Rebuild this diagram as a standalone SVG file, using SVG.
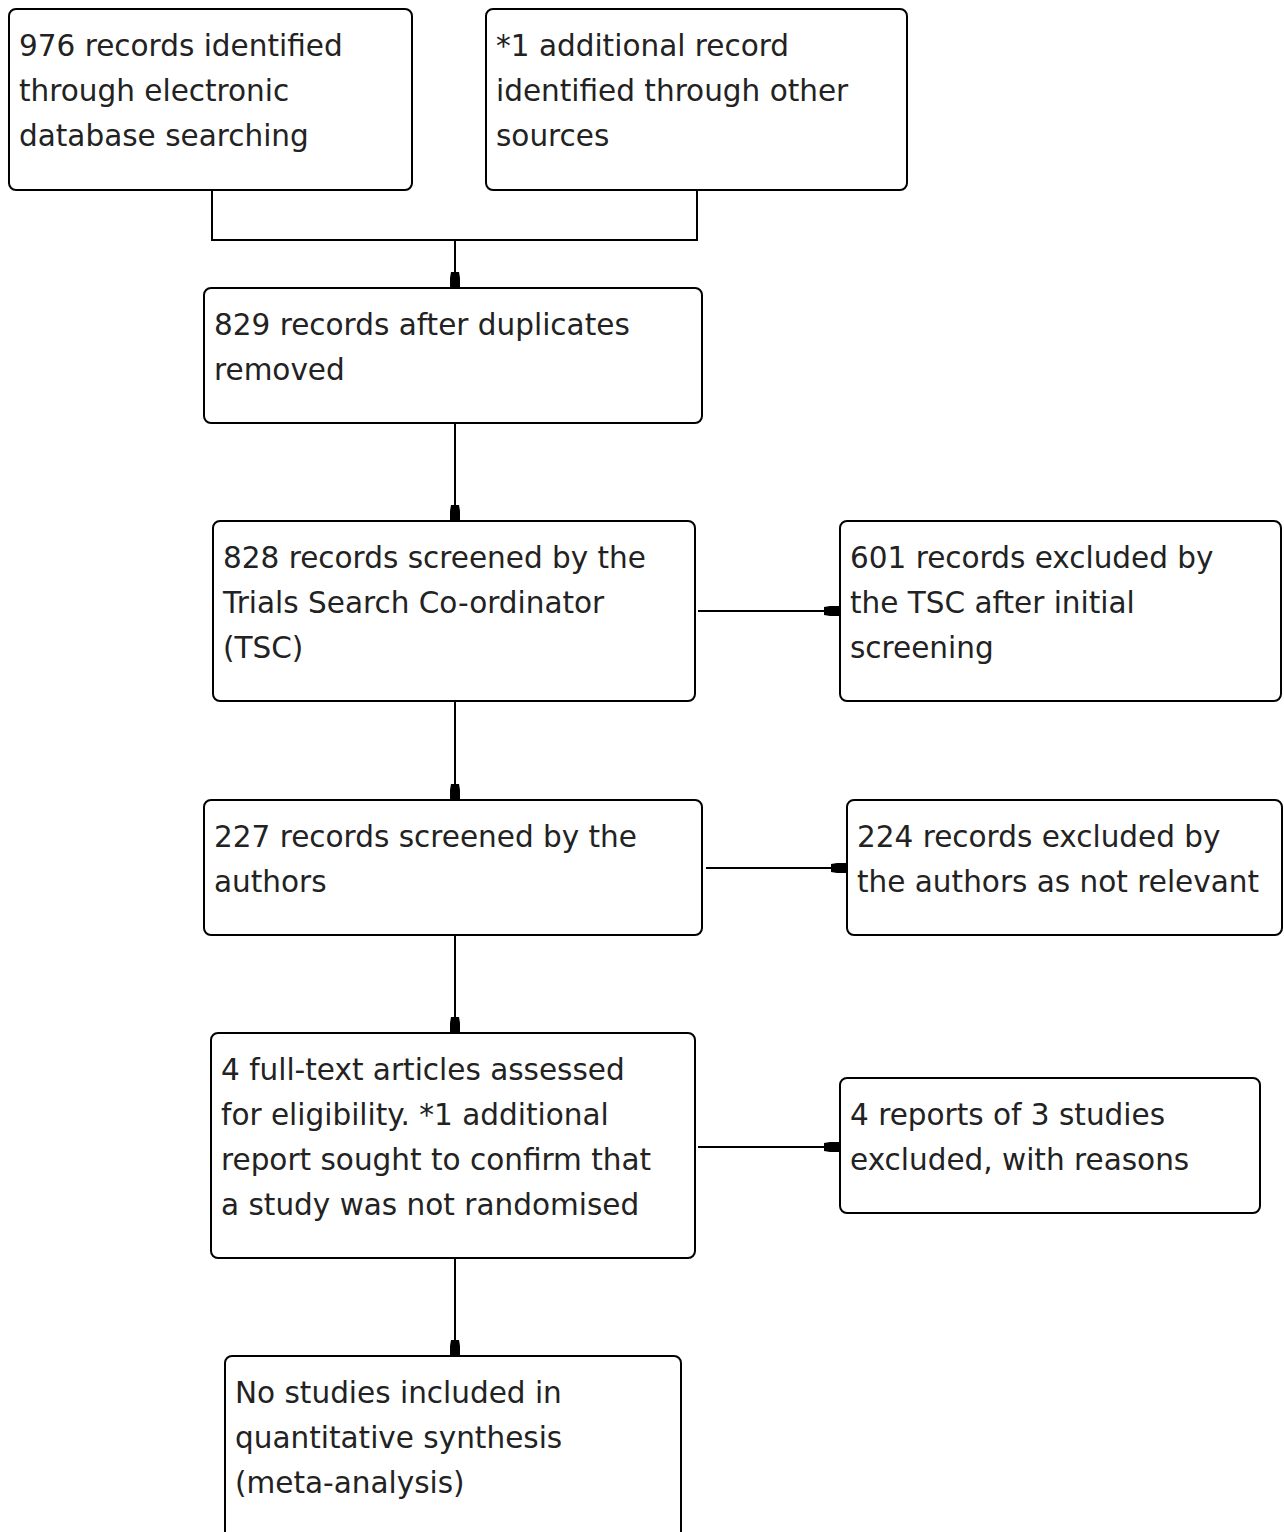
<svg xmlns="http://www.w3.org/2000/svg" width="1284" height="1532" viewBox="0 0 1284 1532">
<style>
.box{fill:#fff;stroke:#000;stroke-width:2}
.t{font-family:"DejaVu Sans",Verdana,sans-serif;font-size:29.5px;fill:#222}
.c{fill:none;stroke:#000;stroke-width:2}
</style>
<defs>
<marker id="ah" markerWidth="16" markerHeight="12" refX="15" refY="6" orient="auto" markerUnits="userSpaceOnUse">
<path d="M0,2 L6,1 L15,1 L15,11 L6,11 L0,10 Z" fill="#000"/>
</marker>
</defs>
<rect width="1284" height="1532" fill="#fff"/>
<g id="connectors">
<path class="c" d="M212,190 V240 H697 V190"/>
<path class="c" d="M455,240 V287" marker-end="url(#ah)"/>
<path class="c" d="M455,423 V520" marker-end="url(#ah)"/>
<path class="c" d="M698,611 H839" marker-end="url(#ah)"/>
<path class="c" d="M455,701 V799" marker-end="url(#ah)"/>
<path class="c" d="M706,868 H846" marker-end="url(#ah)"/>
<path class="c" d="M455,935 V1032" marker-end="url(#ah)"/>
<path class="c" d="M698,1147 H839" marker-end="url(#ah)"/>
<path class="c" d="M455,1258 V1355" marker-end="url(#ah)"/>
</g>
<g id="n1"><rect class="box" x="9" y="9" width="403" height="181" rx="7"/>
<text class="t" x="19" y="56">976 records identified</text><text class="t" x="19" y="101">through electronic</text><text class="t" x="19" y="146">database searching</text></g>
<g id="n2"><rect class="box" x="486" y="9" width="421" height="181" rx="7"/>
<text class="t" x="496" y="56">*1 additional record</text><text class="t" x="496" y="101">identified through other</text><text class="t" x="496" y="146">sources</text></g>
<g id="n3"><rect class="box" x="204" y="288" width="498" height="135" rx="7"/>
<text class="t" x="214" y="335">829 records after duplicates</text><text class="t" x="214" y="380">removed</text></g>
<g id="n4"><rect class="box" x="213" y="521" width="482" height="180" rx="7"/>
<text class="t" x="223" y="568">828 records screened by the</text><text class="t" x="223" y="613">Trials Search Co-ordinator</text><text class="t" x="223" y="658">(TSC)</text></g>
<g id="n5"><rect class="box" x="840" y="521" width="441" height="180" rx="7"/>
<text class="t" x="850" y="568">601 records excluded by</text><text class="t" x="850" y="613">the TSC after initial</text><text class="t" x="850" y="658">screening</text></g>
<g id="n6"><rect class="box" x="204" y="800" width="498" height="135" rx="7"/>
<text class="t" x="214" y="847">227 records screened by the</text><text class="t" x="214" y="892">authors</text></g>
<g id="n7"><rect class="box" x="847" y="800" width="435" height="135" rx="7"/>
<text class="t" x="857" y="847">224 records excluded by</text><text class="t" x="857" y="892">the authors as not relevant</text></g>
<g id="n8"><rect class="box" x="211" y="1033" width="484" height="225" rx="7"/>
<text class="t" x="221" y="1080">4 full-text articles assessed</text><text class="t" x="221" y="1125">for eligibility. *1 additional</text><text class="t" x="221" y="1170">report sought to confirm that</text><text class="t" x="221" y="1215">a study was not randomised</text></g>
<g id="n9"><rect class="box" x="840" y="1078" width="420" height="135" rx="7"/>
<text class="t" x="850" y="1125">4 reports of 3 studies</text><text class="t" x="850" y="1170">excluded, with reasons</text></g>
<g id="n10"><rect class="box" x="225" y="1356" width="456" height="220" rx="7"/>
<text class="t" x="235" y="1403">No studies included in</text><text class="t" x="235" y="1448">quantitative synthesis</text><text class="t" x="235" y="1493">(meta-analysis)</text></g>
</svg>
